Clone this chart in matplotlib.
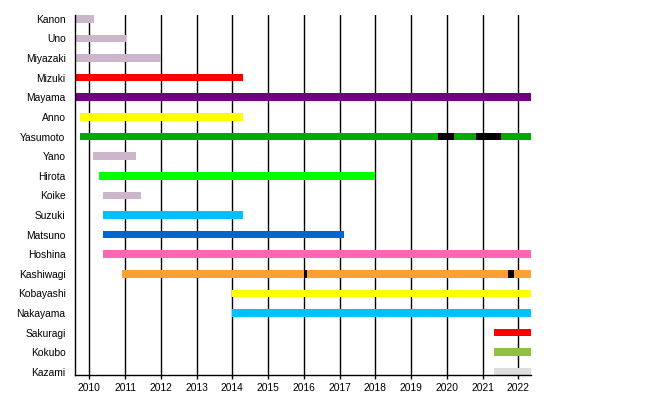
import matplotlib
matplotlib.use("Agg")
import matplotlib.pyplot as plt

plt.rcParams['font.family'] = ['Liberation Sans', 'DejaVu Sans']

members = ["Kanon", "Uno", "Miyazaki", "Mizuki", "Mayama", "Anno", "Yasumoto",
           "Yano", "Hirota", "Koike", "Suzuki", "Matsuno", "Hoshina", "Kashiwagi",
           "Kobayashi", "Nakayama", "Sakuragi", "Kokubo", "Kazami"]
starts = [2009.5, 2009.5, 2009.5, 2009.5, 2009.5, 2009.74, 2009.74,
          2010.10, 2010.27, 2010.38, 2010.38, 2010.38, 2010.38, 2010.91,
          2014.0, 2014.0, 2021.33, 2021.33, 2021.33]
ends = [2010.13, 2011.04, 2012.0, 2014.30, 2022.4, 2014.31, 2022.4,
        2011.30, 2018.0, 2011.44, 2014.30, 2017.13, 2022.4, 2022.4,
        2022.4, 2022.4, 2022.4, 2022.4, 2022.4]
colors = ["#ccb6cc", "#ccb6cc", "#ccb6cc", "#ff0000", "#700080", "#ffff00", "#00aa00",
          "#ccb6cc", "#00ff00", "#ccb6cc", "#00c0ff", "#0066cc", "#ff66b4", "#ffa030",
          "#ffff00", "#00c0ff", "#ff0000", "#90c040", "#dddddd"]

# hiatus markers (black segments): member, start, end
break_members = ["Yasumoto", "Yasumoto", "Kashiwagi", "Kashiwagi"]
break_starts = [2019.76, 2020.82, 2016.0, 2021.70]
break_ends = [2020.20, 2021.52, 2016.08, 2021.88]

years = list(range(2010, 2023))

fig = plt.figure(figsize=(6.5, 3.95), dpi=100)
ax = fig.add_axes([75.3 / 650, 1 - 375 / 395, (531 - 75.3) / 650, (375 - 15) / 395])

for y in years:
    ax.axvline(y, color="black", lw=1.0, zorder=1)

rows = list(range(len(members)))
bh = 0.39
ax.barh(rows, [e - s for s, e in zip(starts, ends)], left=starts, height=bh,
        color=colors, zorder=2)

for m, s, e in zip(break_members, break_starts, break_ends):
    ax.barh(members.index(m), e - s, left=s, height=bh, color="black", zorder=3)

ax.set_xlim(2009.608, 2022.355)
ax.set_ylim(18.16, -0.195)
ax.set_yticks(rows)
ax.set_yticklabels(members, fontsize=7.4)
ax.tick_params(axis="y", length=0, pad=7)
ax.set_xticks(years)
ax.set_xticklabels([str(y) for y in years], fontsize=7.4)
ax.tick_params(axis="x", length=3, width=1, pad=3, direction="out")

for side in ["top", "right"]:
    ax.spines[side].set_visible(False)
for side in ["left", "bottom"]:
    ax.spines[side].set_linewidth(1.0)
    ax.spines[side].set_zorder(4)

fig.savefig("out.png", dpi=100)
